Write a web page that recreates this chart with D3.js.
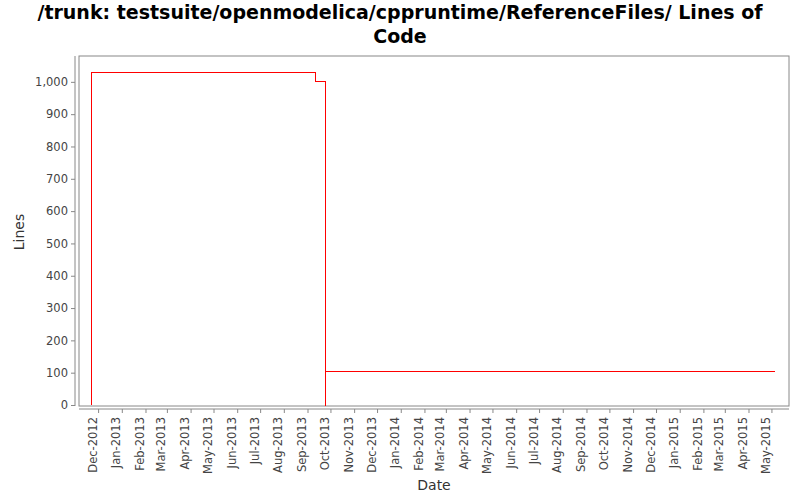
<!DOCTYPE html>
<html><head><meta charset="utf-8">
<script src="https://cdn.jsdelivr.net/npm/d3@7"></script>
<style>body{margin:0;background:#fff}text{font-family:"DejaVu Sans",sans-serif}</style>
</head><body><svg id="c" width="800" height="500"></svg>
<script>
const dates = ["2012-11-22","2012-11-22","2013-09-11","2013-09-24","2013-09-25","2015-05-06"];
const lines = [0,1030,1000,0,105,105];
const yTicks = [0,100,200,300,400,500,600,700,800,900,1000];
const xTickMonths = d3.timeMonths(new Date(2012,11,1), new Date(2015,4,2));

const svg = d3.select("#c");
const L=79,R=789,T=56,B=406;
const parse = d3.timeParse("%Y-%m-%d");
const data = dates.map((d,i)=>({d:parse(d),v:lines[i]}));
const x = d3.scaleTime().domain([new Date(2012,10,6), new Date(2015,4,24)]).range([L,R]);
const y = d3.scaleLinear().domain([0,1080]).range([405,T]);

svg.append("rect").attr("x",L).attr("y",T).attr("width",R-L).attr("height",B-T).attr("fill","#fff").attr("stroke","#888").attr("stroke-width",1);

svg.append("text").attr("x",400).attr("y",19).attr("text-anchor","middle").attr("font-size",19).attr("font-weight","bold").text("/trunk: testsuite/openmodelica/cppruntime/ReferenceFiles/ Lines of");
svg.append("text").attr("x",400).attr("y",43).attr("text-anchor","middle").attr("font-size",19).attr("font-weight","bold").text("Code");

const ya = svg.append("g").attr("transform",`translate(${L-4},0)`).call(d3.axisLeft(y).tickValues(yTicks).tickFormat(d3.format(",")).tickSize(4).tickSizeOuter(0));
ya.select(".domain").attr("stroke","#888").attr("d",`M0,${T}V${B}`);
ya.selectAll(".tick line").attr("stroke","#888");
ya.selectAll("text").attr("font-size",11.5).attr("fill","#444");

const xa = svg.append("g").attr("transform",`translate(0,${B+3})`).call(d3.axisBottom(x).tickValues(xTickMonths).tickFormat(d3.timeFormat("%b-%Y")).tickSize(4).tickSizeOuter(0));
xa.select(".domain").attr("stroke","#888").attr("d",`M${L},0H${R}`);
xa.selectAll(".tick line").attr("stroke","#888");
xa.selectAll("text").attr("font-size",11.5).attr("fill","#444").attr("text-anchor","end").attr("transform","translate(-6,8) rotate(-90)").attr("dy","0.35em").attr("x",0).attr("y",0);

svg.append("path").datum(data).attr("fill","none").attr("stroke","#ff0000").attr("stroke-width",1).attr("shape-rendering","crispEdges")
  .attr("d",d3.line().x(d=>x(d.d)).y(d=>y(d.v)).curve(d3.curveStepAfter));

svg.append("text").attr("transform","translate(24,232) rotate(-90)").attr("text-anchor","middle").attr("font-size",14).attr("fill","#333").text("Lines");
svg.append("text").attr("x",434).attr("y",490).attr("text-anchor","middle").attr("font-size",14).attr("fill","#333").text("Date");
</script></body></html>
